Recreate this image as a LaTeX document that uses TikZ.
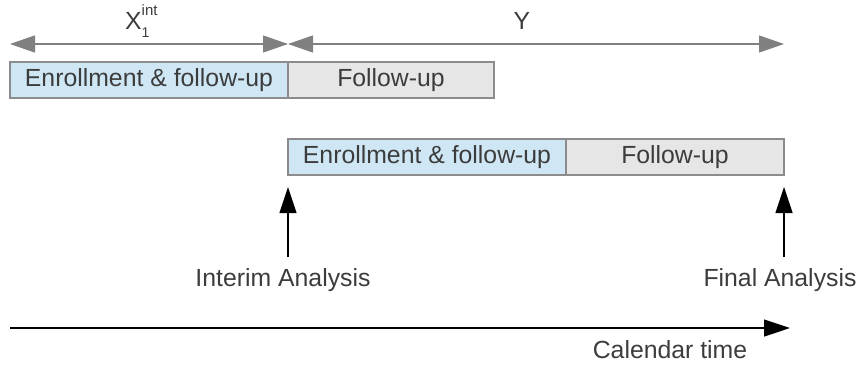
\documentclass[tikz,border=0pt]{standalone}
\usepackage{fontspec}
\setmainfont{Liberation Sans}
\usetikzlibrary{arrows.meta,positioning}
\definecolor{txtgray}{HTML}{3C3C3C}
\definecolor{linegray}{HTML}{808080}
\definecolor{boxline}{HTML}{8C8C8C}
\definecolor{enrollblue}{HTML}{CFE7F5}
\definecolor{followgray}{HTML}{E6E6E6}
\tikzset{
  lbl/.style={text=txtgray, font=\fontsize{24.8}{29}\selectfont, inner sep=0pt},
  phase/.style={lbl, draw=boxline, line width=1.2pt, outer sep=0pt, minimum height=36pt},
  enroll/.style={phase, fill=enrollblue},
  follow/.style={phase, fill=followgray},
  dimarrow/.style={linegray, line width=1.2pt,
    {Triangle[length=25pt,width=17pt]}-{Triangle[length=25pt,width=17pt]}},
  markarrow/.style={black, line width=1.2pt, -{Triangle[length=26pt,width=17pt]}}
}
\begin{document}
\begin{tikzpicture}[x=1pt,y=-1pt]
    \useasboundingbox (0,0) rectangle (861,364);
    % Primera fila
    \node[enroll, minimum width=278pt] (enroll1) at (149,80) {Enrollment \& follow-up};
    \node[follow, minimum width=206pt, right=0pt of enroll1] (follow1) {Follow-up};
    % Segunda fila
    \node[enroll, minimum width=278pt] (enroll2) at (427,157) {Enrollment \& follow-up};
    \node[follow, minimum width=218pt, right=0pt of enroll2] (follow2) {Follow-up};
    % Intervalos
    \coordinate (d0) at ([yshift=18pt]enroll1.north west);
    \coordinate (d1) at ([yshift=18pt]enroll1.north east);
    \coordinate (d2) at (follow2.east |- d1);
    \draw[dimarrow] (d0) -- (d1);
    \draw[dimarrow] (d1) -- (d2);
    \node[lbl, anchor=base west] (xint) at (125,29)
      {X\rlap{\raisebox{14pt}{\fontsize{15}{15}\selectfont int}}\raisebox{-8pt}{\fontsize{14}{14}\selectfont 1}};
    \node[lbl, anchor=base] (ylbl) at (522,29) {Y};
    % Analisis
    \node[lbl] (interim) at (283,280) {Interim Analysis};
    \node[lbl] (final) at (780,280) {Final Analysis};
    \coordinate (ia) at (enroll2.south west |- 0,257);
    \coordinate (fa) at (follow2.south east |- 0,257);
    \draw[markarrow] (ia) -- ([yshift=-12pt]enroll2.south west);
    \draw[markarrow] (fa) -- ([yshift=-12pt]follow2.south east);
    % Eje de tiempo
    \coordinate (t0) at (10,328);
    \coordinate (t1) at (790,328);
    \draw[markarrow] (t0) -- (t1);
    \node[lbl] (caltime) at (670,350) {Calendar time};
\end{tikzpicture}
\end{document}
